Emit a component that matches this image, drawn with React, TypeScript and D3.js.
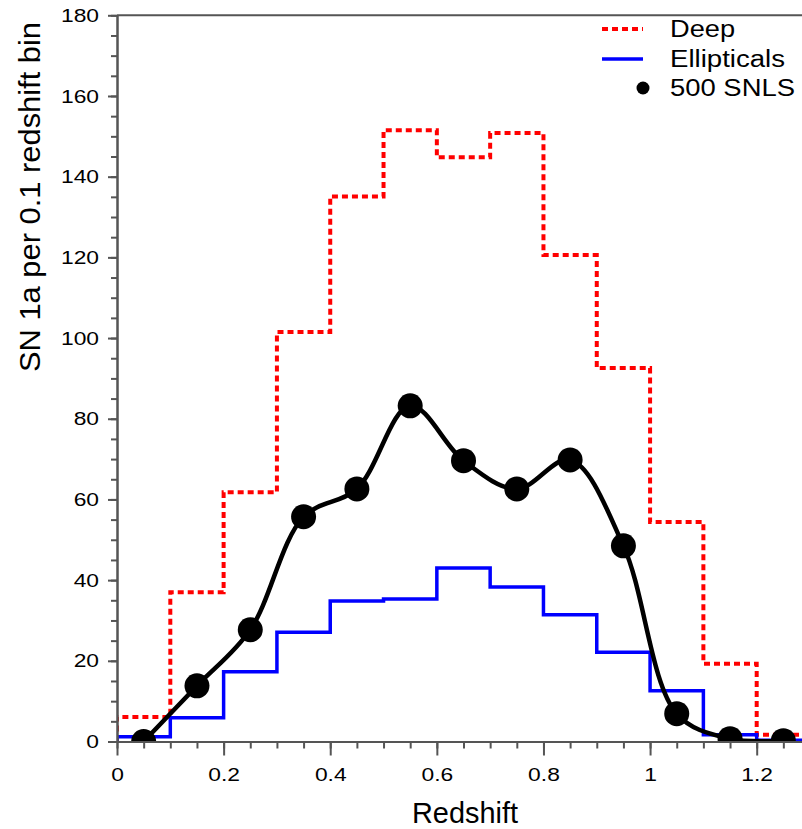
import React, { useEffect, useRef } from "react";
import * as d3 from "d3";

// bin edges (left edge of each 0.1 redshift bin) and bin centres
const binEdges = [0, 0.1, 0.2, 0.3, 0.4, 0.5, 0.6, 0.7, 0.8, 0.9, 1.0, 1.1, 1.2, 1.3];
const binCenters = [0.05, 0.15, 0.25, 0.35, 0.45, 0.55, 0.65, 0.75, 0.85, 0.95, 1.05, 1.15, 1.25];

const deepCounts = [6.1, 37, 61.8, 101.5, 135.1, 151.5, 144.8, 150.8, 120.6, 92.6, 54.4, 19.3, 1.7];
const ellipticalCounts = [1.2, 5.9, 17.3, 27.1, 34.8, 35.3, 43.0, 38.3, 31.4, 22.1, 12.6, 1.7, 0.3];
const snlsCounts = [0, 13.8, 27.7, 55.7, 62.6, 83.2, 69.6, 62.6, 69.8, 48.5, 6.9, 0.7, 0.2];

const xMajorTicks = [0, 0.2, 0.4, 0.6, 0.8, 1, 1.2];
const yMajorTicks = [0, 20, 40, 60, 80, 100, 120, 140, 160, 180];

const legendItems = ["Deep", "Ellipticals", "500 SNLS"];

const width = 802;
const height = 829;
const left = 117;
const right = 810;
const top = 15.3;
const bottom = 741.5;
const axisGray = "#555555";
const font = "'Liberation Sans', Arial, Helvetica, sans-serif";

const App = () => {
  const ref = useRef<SVGSVGElement>(null);

  useEffect(() => {
    const svg = d3.select(ref.current);
    svg.selectAll("*").remove();

    const x = d3.scaleLinear().domain([0, 1.3]).range([left, right]);
    const y = d3.scaleLinear().domain([0, 180]).range([bottom, top]);

    svg
      .append("defs")
      .append("clipPath")
      .attr("id", "plot-clip")
      .append("rect")
      .attr("x", left)
      .attr("y", top)
      .attr("width", right - left)
      .attr("height", bottom - top);

    const plot = svg.append("g").attr("clip-path", "url(#plot-clip)");

    const stepPoints = (vals: number[]) => {
      const pts: [number, number][] = [[binEdges[0], 0]];
      vals.forEach((v, i) => pts.push([binEdges[i], v]));
      pts.push([binEdges[binEdges.length - 1], vals[vals.length - 1]]);
      return pts;
    };

    const step = d3
      .line<[number, number]>()
      .x((d) => x(d[0]))
      .y((d) => y(d[1]))
      .curve(d3.curveStepAfter);

    plot
      .append("path")
      .attr("d", step(stepPoints(deepCounts)))
      .attr("fill", "none")
      .attr("stroke", "#ff0000")
      .attr("stroke-width", 4)
      .attr("stroke-dasharray", "6,4");

    plot
      .append("path")
      .attr("d", step(stepPoints(ellipticalCounts)))
      .attr("fill", "none")
      .attr("stroke", "#0000ff")
      .attr("stroke-width", 3.5);

    const snls = binCenters.map((c, i) => [c, snlsCounts[i]] as [number, number]);
    const smooth = d3
      .line<[number, number]>()
      .x((d) => x(d[0]))
      .y((d) => y(d[1]))
      .curve(d3.curveCatmullRom.alpha(0.5));

    plot
      .append("path")
      .attr("d", smooth(snls))
      .attr("fill", "none")
      .attr("stroke", "black")
      .attr("stroke-width", 4.5);

    plot
      .selectAll("circle.snls")
      .data(snls)
      .enter()
      .append("circle")
      .attr("class", "snls")
      .attr("cx", (d) => x(d[0]))
      .attr("cy", (d) => y(d[1]))
      .attr("r", 12.5)
      .attr("fill", "black");

    // axes
    const xAxisG = svg.append("g").attr("transform", `translate(0,${bottom})`);
    xAxisG
      .append("g")
      .call(d3.axisBottom(x).ticks(26).tickSize(7).tickSizeOuter(0).tickFormat(() => ""));
    xAxisG
      .append("g")
      .call(
        d3
          .axisBottom(x)
          .tickValues(xMajorTicks)
          .tickSize(14)
          .tickSizeOuter(0)
          .tickPadding(12.5)
          .tickFormat((d) => d3.format("~g")(d as number))
      );

    const yAxisG = svg.append("g").attr("transform", `translate(${left},0)`);
    yAxisG
      .append("g")
      .call(d3.axisLeft(y).ticks(36).tickSize(6).tickSizeOuter(0).tickFormat(() => ""));
    yAxisG
      .append("g")
      .call(d3.axisLeft(y).tickValues(yMajorTicks).tickSize(9).tickSizeOuter(0).tickPadding(9));

    svg.selectAll(".domain").attr("stroke", axisGray).attr("stroke-width", 2);
    svg.selectAll(".tick line").attr("stroke", axisGray).attr("stroke-width", 2);
    svg
      .selectAll(".tick text")
      .attr("fill", "black")
      .attr("font-family", font)
      .attr("font-size", 19)
      .attr("class", "stretch");

    svg
      .append("line")
      .attr("x1", left)
      .attr("x2", right)
      .attr("y1", top)
      .attr("y2", top)
      .attr("stroke", axisGray)
      .attr("stroke-width", 2);

    // axis titles
    svg
      .append("text")
      .attr("x", 465)
      .attr("y", 823)
      .attr("text-anchor", "middle")
      .attr("font-family", font)
      .attr("font-size", 29)
      .attr("textLength", 106)
      .attr("lengthAdjust", "spacingAndGlyphs")
      .text("Redshift");

    svg
      .append("text")
      .attr("transform", "translate(40,197) rotate(-90)")
      .attr("text-anchor", "middle")
      .attr("font-family", font)
      .attr("font-size", 29)
      .attr("textLength", 350)
      .attr("lengthAdjust", "spacingAndGlyphs")
      .text("SN 1a per 0.1 redshift bin");

    // legend
    const legend = svg.append("g");
    const rowY = [29, 59, 88];
    const textWidths = [65, 115, 125];
    legend
      .append("line")
      .attr("x1", 602)
      .attr("x2", 643)
      .attr("y1", rowY[0])
      .attr("y2", rowY[0])
      .attr("stroke", "#ff0000")
      .attr("stroke-width", 4)
      .attr("stroke-dasharray", "6,4");
    legend
      .append("line")
      .attr("x1", 602)
      .attr("x2", 643)
      .attr("y1", rowY[1])
      .attr("y2", rowY[1])
      .attr("stroke", "#0000ff")
      .attr("stroke-width", 3.5);
    legend.append("circle").attr("cx", 643).attr("cy", rowY[2]).attr("r", 6.5).attr("fill", "black");

    legend
      .selectAll("text")
      .data(legendItems)
      .enter()
      .append("text")
      .attr("x", 670)
      .attr("y", (d, i) => rowY[i] + 8.3)
      .attr("font-family", font)
      .attr("font-size", 23)
      .attr("textLength", (d, i) => textWidths[i])
      .attr("lengthAdjust", "spacingAndGlyphs")
      .text((d) => d);

    // the original glyphs are wider than Arial: stretch tick labels a little
    svg.selectAll<SVGTextElement, unknown>("text.stretch").each(function () {
      const w = this.getComputedTextLength();
      d3.select(this).attr("textLength", w * 1.2).attr("lengthAdjust", "spacingAndGlyphs");
    });
  }, []);

  return (
    <svg
      ref={ref}
      width={width}
      height={height}
      style={{ position: "absolute", left: 0, top: 0, background: "white" }}
    />
  );
};

export default App;
